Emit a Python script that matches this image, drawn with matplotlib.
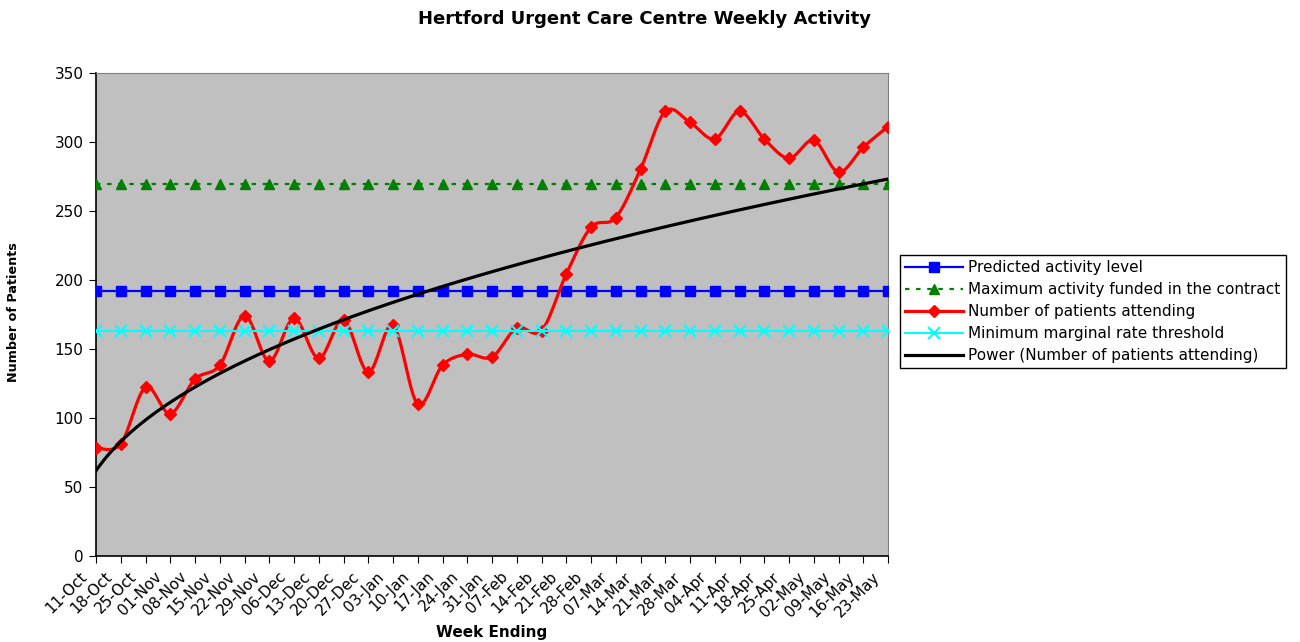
import numpy as np
import matplotlib
matplotlib.use("Agg")
import matplotlib.pyplot as plt
import matplotlib.transforms as mtransforms

plt.rcParams['font.family'] = ['DejaVu Sans']

weeks = ["11-Oct", "18-Oct", "25-Oct", "01-Nov", "08-Nov", "15-Nov", "22-Nov", "29-Nov",
         "06-Dec", "13-Dec", "20-Dec", "27-Dec", "03-Jan", "10-Jan", "17-Jan", "24-Jan",
         "31-Jan", "07-Feb", "14-Feb", "21-Feb", "28-Feb", "07-Mar", "14-Mar", "21-Mar",
         "28-Mar", "04-Apr", "11-Apr", "18-Apr", "25-Apr", "02-May", "09-May", "16-May",
         "23-May"]
patients = [78, 81, 122, 103, 128, 138, 174, 141, 172, 143, 171, 133, 167, 110, 138, 146,
            144, 165, 163, 204, 238, 245, 280, 322, 314, 302, 322, 302, 288, 301, 278, 296,
            311]
predicted_level = 192
max_funded = 269
min_threshold = 163

title = "Hertford Urgent Care Centre Weekly Activity"
x_label = "Week Ending"
y_label = "Number of Patients"
legend_labels = ["Predicted activity level",
                 "Maximum activity funded in the contract",
                 "Number of patients attending",
                 "Minimum marginal rate threshold",
                 "Power (Number of patients attending)"]

n = len(weeks)
x = np.arange(n)
y = np.array(patients, dtype=float)


def smooth_curve(xs, ys, steps=30):
    # Excel-style smoothed line (Bezier / Catmull-Rom) through the data points
    px = np.concatenate([[xs[0]], xs, [xs[-1]]])
    py = np.concatenate([[ys[0]], ys, [ys[-1]]])
    outx, outy = [], []
    t = np.linspace(0, 1, steps, endpoint=False)
    for i in range(1, len(px) - 2):
        p0x, p1x, p2x, p3x = px[i - 1], px[i], px[i + 1], px[i + 2]
        p0y, p1y, p2y, p3y = py[i - 1], py[i], py[i + 1], py[i + 2]
        c1x, c1y = p1x + (p2x - p0x) / 6, p1y + (p2y - p0y) / 6
        c2x, c2y = p2x - (p3x - p1x) / 6, p2y - (p3y - p1y) / 6
        bx = (1 - t) ** 3 * p1x + 3 * (1 - t) ** 2 * t * c1x + 3 * (1 - t) * t ** 2 * c2x + t ** 3 * p2x
        by = (1 - t) ** 3 * p1y + 3 * (1 - t) ** 2 * t * c1y + 3 * (1 - t) * t ** 2 * c2y + t ** 3 * p2y
        outx.extend(bx)
        outy.extend(by)
    outx.append(xs[-1])
    outy.append(ys[-1])
    return np.array(outx), np.array(outy)


# Power trendline (Excel: least squares in log-log space, x = 1..n)
xi = np.arange(1, n + 1)
b, lna = np.polyfit(np.log(xi), np.log(y), 1)
xt = np.linspace(1, n, 300)
yt = np.exp(lna) * xt ** b

fig = plt.figure(figsize=(13, 6.42), dpi=100)
ax = fig.add_axes([96 / 1300, 1 - 555.7 / 642, (888 - 96) / 1300, (555.7 - 72.7) / 642])
ax.set_facecolor('#C0C0C0')

h1, = ax.plot(x, [predicted_level] * n, color='#0000FF', lw=1.6, marker='s', ms=7,
              mec='#0000FF', mfc='#0000FF', zorder=3)
h2, = ax.plot(x, [max_funded] * n, color='#008000', lw=1.6, ls=(0, (2, 3)), marker='^', ms=7.5,
              mec='#008000', mfc='#008000', zorder=3)
sx, sy = smooth_curve(x.astype(float), y)
ax.plot(sx, sy, color='#FF0000', lw=2.3, zorder=4, solid_capstyle='round')
ax.plot(x, y, ls='none', marker='D', ms=6, mec='#FF0000', mfc='#FF0000', zorder=4)
h3, = ax.plot([], [], color='#FF0000', lw=2.3, marker='D', ms=6, mec='#FF0000', mfc='#FF0000')
h4, = ax.plot(x, [min_threshold] * n, color='#00FFFF', lw=1.5, marker='x', ms=8, mew=1.5,
              mec='#00FFFF', zorder=5)
h5, = ax.plot(xt - 1, yt, color='black', lw=2.3, zorder=6)

ax.set_xlim(0, n - 1)
ax.set_ylim(0, 350)
ax.set_yticks(np.arange(0, 351, 50))
ax.set_xticks(x)
ax.tick_params(axis='y', labelsize=11, length=5, direction='out', pad=4)
ax.tick_params(axis='x', length=5, direction='out', pad=2)
ax.set_xticklabels(weeks, rotation=45, ha='right', va='center', rotation_mode='anchor',
                   fontsize=11)
for s in ['top', 'right']:
    ax.spines[s].set_color('#808080')
for s in ['left', 'bottom']:
    ax.spines[s].set_color('black')
    ax.spines[s].set_linewidth(1.2)

fig.text(645 / 1300, 1 - 19 / 642, title, ha='center', va='center', fontsize=13, fontweight='bold')
fig.text(492 / 1300, 1 - 633 / 642, x_label, ha='center', va='center', fontsize=11, fontweight='bold')
fig.text(14 / 1300, 1 - 312 / 642, y_label, ha='center', va='center', rotation=90,
         fontsize=9.2, fontweight='bold')

leg = fig.legend([h1, h2, h3, h4, h5], legend_labels, loc='upper left',
                 bbox_to_anchor=(900 / 1300, 1 - 255 / 642), fontsize=11,
                 frameon=True, fancybox=False, edgecolor='black', framealpha=1,
                 handlelength=3.8, handletextpad=0.3, labelspacing=0.45,
                 borderpad=0.35, borderaxespad=0)
leg.get_frame().set_linewidth(1.0)

# shift rotated tick labels down-left along their direction (as in the reference)
fig.canvas.draw()
shift = mtransforms.ScaledTranslation(-11 / 100, -9 / 100, fig.dpi_scale_trans)
for lbl in ax.get_xticklabels():
    lbl.set_transform(lbl.get_transform() + shift)

fig.savefig('out.png', dpi=100)
